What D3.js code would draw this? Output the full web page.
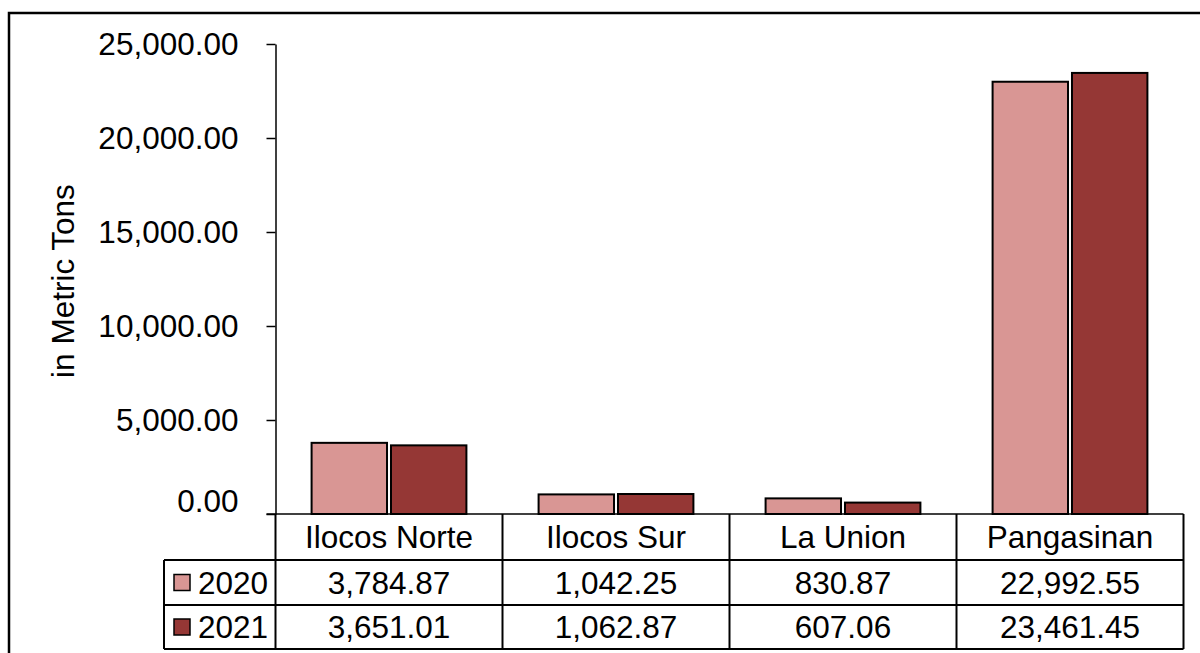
<!DOCTYPE html>
<html>
<head>
<meta charset="utf-8">
<script src="https://cdn.jsdelivr.net/npm/d3@7"></script>
<style>
  html, body { margin: 0; padding: 0; background: #fff; }
  svg { display: block; font-family: "Liberation Sans", Arial, sans-serif; }
</style>
</head>
<body>
<svg width="1200" height="653"></svg>
<script>
const provinces = ["Ilocos Norte", "Ilocos Sur", "La Union", "Pangasinan"]
const years = ["2020", "2021"]
const values2020 = [3784.87, 1042.25, 830.87, 22992.55]
const values2021 = [3651.01, 1062.87, 607.06, 23461.45]
const yTicks = [0, 5000, 10000, 15000, 20000, 25000]
const colors = { "2020": "#d99694", "2021": "#953735" }

const seriesValues = { "2020": values2020, "2021": values2021 }
const fmt = d3.format(",.2f")

const svg = d3.select("svg")

// outer chart border (runs off the right and bottom)
svg.append("rect")
    .attr("x", 9).attr("y", 13)
    .attr("width", 1300).attr("height", 800)
    .attr("fill", "none").attr("stroke", "#000").attr("stroke-width", 2.5)

const plotLeft = 275.5, plotRight = 1183.5, plotTop = 44, plotBottom = 514
const rowH = [46, 45, 44]

const x0 = d3.scaleBand().domain(provinces).range([plotLeft, plotRight]).padding(0)
const x1 = d3.scaleBand().domain(years)
    .range([x0.bandwidth() * 0.159, x0.bandwidth() * 0.841])
    .paddingInner(0.05)
const y = d3.scaleLinear().domain([0, 25000]).range([plotBottom, plotTop])

// y axis
const yAxis = svg.append("g")
    .attr("transform", `translate(${plotLeft},0)`)
    .call(d3.axisLeft(y).tickValues(yTicks).tickFormat(fmt).tickSize(9).tickSizeOuter(0).tickPadding(28))
yAxis.select(".domain").attr("stroke", "#000").attr("stroke-width", 1.5)
yAxis.selectAll(".tick line").attr("stroke", "#000").attr("stroke-width", 1.5)
yAxis.selectAll(".tick text")
    .attr("font-size", 31.5).attr("fill", "#000")
    .attr("font-family", "Liberation Sans, Arial, sans-serif")
    .attr("y", d => d === 0 ? -13 : 0)

svg.append("text")
    .attr("transform", `translate(74,${(plotTop + plotBottom) / 2 + 2}) rotate(-90)`)
    .attr("text-anchor", "middle")
    .attr("font-size", 31.5)
    .text("in Metric Tons")

// bars
const groups = svg.append("g").selectAll("g")
    .data(provinces)
    .join("g")
    .attr("transform", d => `translate(${x0(d)},0)`)

groups.selectAll("rect")
    .data((p, i) => years.map(yr => ({ yr, v: seriesValues[yr][i] })))
    .join("rect")
    .attr("x", d => x1(d.yr))
    .attr("y", d => y(d.v))
    .attr("width", x1.bandwidth())
    .attr("height", d => plotBottom - y(d.v))
    .attr("fill", d => colors[d.yr])
    .attr("stroke", "#000")
    .attr("stroke-width", 2)

// data table
const legendLeft = 164
const rowY = [plotBottom, plotBottom + rowH[0], plotBottom + rowH[0] + rowH[1], plotBottom + rowH[0] + rowH[1] + rowH[2]]
const table = svg.append("g").attr("stroke", "#000").attr("stroke-width", 2)

table.append("line").attr("x1", plotLeft - 9).attr("x2", plotRight).attr("y1", plotBottom).attr("y2", plotBottom).attr("stroke-width", 1.5)
for (let r = 1; r < rowY.length; r++) {
    table.append("line").attr("x1", legendLeft).attr("x2", plotRight).attr("y1", rowY[r]).attr("y2", rowY[r])
}
table.append("line").attr("x1", legendLeft).attr("x2", legendLeft).attr("y1", rowY[1]).attr("y2", rowY[3])
provinces.forEach(p => {
    table.append("line").attr("x1", x0(p)).attr("x2", x0(p)).attr("y1", plotBottom).attr("y2", rowY[3])
})
table.append("line").attr("x1", plotRight).attr("x2", plotRight).attr("y1", plotBottom).attr("y2", rowY[3])

svg.append("g").selectAll("text")
    .data(provinces)
    .join("text")
    .attr("x", d => x0(d) + x0.bandwidth() / 2)
    .attr("y", (rowY[0] + rowY[1]) / 2 + 11)
    .attr("text-anchor", "middle")
    .attr("font-size", 31.5)
    .text(d => d)

years.forEach((yr, r) => {
    const cy = (rowY[r + 1] + rowY[r + 2]) / 2
    svg.append("rect")
        .attr("x", legendLeft + 10).attr("y", cy - 8)
        .attr("width", 16).attr("height", 16)
        .attr("fill", colors[yr]).attr("stroke", "#000").attr("stroke-width", 1.5)
    svg.append("text")
        .attr("x", legendLeft + 34).attr("y", cy + 11)
        .attr("font-size", 31.5)
        .text(yr)
    svg.append("g").selectAll("text")
        .data(seriesValues[yr])
        .join("text")
        .attr("x", (d, i) => x0(provinces[i]) + x0.bandwidth() / 2)
        .attr("y", cy + 11)
        .attr("text-anchor", "middle")
        .attr("font-size", 31.5)
        .text(d => fmt(d))
})
</script>
</body>
</html>
